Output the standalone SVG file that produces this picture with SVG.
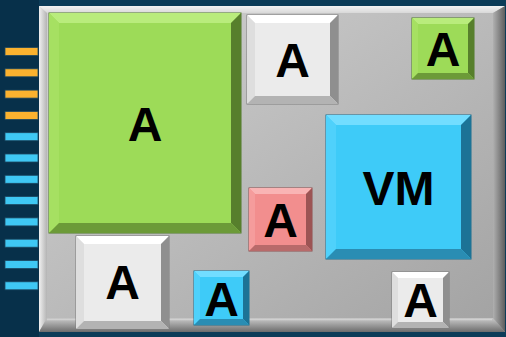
<svg xmlns="http://www.w3.org/2000/svg" width="506" height="337" viewBox="0 0 506 337">
<defs>
<linearGradient id="boardFace" x1="0" y1="0" x2="1" y2="1">
<stop offset="0" stop-color="#d2d2d2"/>
<stop offset="1" stop-color="#a2a2a2"/>
</linearGradient>
<linearGradient id="boardBottom" x1="0" y1="0" x2="0" y2="1">
<stop offset="0" stop-color="#c4c4c4"/>
<stop offset="0.2" stop-color="#b8b8b8"/>
<stop offset="1" stop-color="#6c6c6c"/>
</linearGradient>
<linearGradient id="boardRight" x1="0" y1="0" x2="1" y2="0">
<stop offset="0" stop-color="#b0b0b0"/>
<stop offset="1" stop-color="#5e5e5e"/>
</linearGradient>
<linearGradient id="boardTop" x1="0" y1="0" x2="0" y2="1">
<stop offset="0" stop-color="#f4f4f4"/>
<stop offset="1" stop-color="#d8d8d8"/>
</linearGradient>
<linearGradient id="boardLeft" x1="0" y1="0" x2="1" y2="0">
<stop offset="0" stop-color="#f0f0f0"/>
<stop offset="1" stop-color="#b4b4b4"/>
</linearGradient>
<style>
.lbl{font-family:"Liberation Sans",Arial,sans-serif;font-weight:bold;font-size:48px;fill:#000;text-anchor:middle}
.strip-o{fill:#fbb22f;stroke:#1c4660;stroke-width:0.8}
.strip-b{fill:#3fc8f4;stroke:#1c4660;stroke-width:0.8}
.g .f{fill:#9ddb58;stroke:#4f7a28;stroke-width:1}
.g .t{fill:#b9ec7c}.g .l{fill:#a6e062}.g .r{fill:#577f2c}.g .b{fill:#6c9a38}
.w .f{fill:#ebebeb;stroke:#7d7d7d;stroke-width:1}
.w .t{fill:#ffffff}.w .l{fill:#dedede}.w .r{fill:#8f8f8f}.w .b{fill:#b3b3b3}
.c .f{fill:#3ecbf8;stroke:#1b6f90;stroke-width:1}
.c .t{fill:#72ddff}.c .l{fill:#4fd1fb}.c .r{fill:#1c7396}.c .b{fill:#2a8db3}
.p .f{fill:#f28e8e;stroke:#8f4c4c;stroke-width:1}
.p .t{fill:#f9b4b4}.p .l{fill:#f59c9c}.p .r{fill:#9c5454}.p .b{fill:#b86a6a}
</style>
</defs>
<rect x="0" y="0" width="506" height="337" fill="#0c3c58"/>
<rect x="0" y="0" width="39" height="337" fill="#07304a"/>
<g id="strips">
<rect class="strip-o" x="5" y="47.5" width="33" height="8"/>
<rect class="strip-o" x="5" y="68.8" width="33" height="8"/>
<rect class="strip-o" x="5" y="90.1" width="33" height="8"/>
<rect class="strip-o" x="5" y="111.4" width="33" height="8"/>
<rect class="strip-b" x="5" y="132.7" width="33" height="8"/>
<rect class="strip-b" x="5" y="154" width="33" height="8"/>
<rect class="strip-b" x="5" y="175.3" width="33" height="8"/>
<rect class="strip-b" x="5" y="196.6" width="33" height="8"/>
<rect class="strip-b" x="5" y="217.9" width="33" height="8"/>
<rect class="strip-b" x="5" y="239.2" width="33" height="8"/>
<rect class="strip-b" x="5" y="260.5" width="33" height="8"/>
<rect class="strip-b" x="5" y="281.8" width="33" height="8"/>
</g>
<g id="board">
<rect x="39" y="6" width="466" height="326" fill="url(#boardFace)"/>
<polygon points="39,6 505,6 493,13 47,13" fill="url(#boardTop)"/>
<polygon points="39,6 47,13 47,318 39,332" fill="url(#boardLeft)"/>
<polygon points="505,6 505,332 493,318 493,13" fill="url(#boardRight)"/>
<polygon points="39,332 505,332 493,318 47,318" fill="url(#boardBottom)"/>
<line x1="47" y1="319.5" x2="492" y2="319.5" stroke="#d0d0d0" stroke-width="1.5"/>
</g>
<g id="nodeA1" class="g">
<rect class="f" x="49" y="13" width="192" height="220"/>
<polygon class="t" points="49,13 241,13 231,23 59,23"/>
<polygon class="l" points="49,13 59,23 59,223 49,233"/>
<polygon class="r" points="241,13 241,233 231,223 231,23"/>
<polygon class="b" points="49,233 241,233 231,223 59,223"/>
<rect x="59" y="23" width="172" height="200" fill="#9ddb58"/>
<text class="lbl" x="145" y="141">A</text>
</g>
<g id="nodeA2" class="w">
<rect class="f" x="247" y="15" width="91" height="89"/>
<polygon class="t" points="247,15 338,15 330,23 255,23"/>
<polygon class="l" points="247,15 255,23 255,96 247,104"/>
<polygon class="r" points="338,15 338,104 330,96 330,23"/>
<polygon class="b" points="247,104 338,104 330,96 255,96"/>
<rect x="255" y="23" width="75" height="73" fill="#ebebeb"/>
<text class="lbl" x="292.5" y="77">A</text>
</g>
<g id="nodeA3" class="g">
<rect class="f" x="412" y="18" width="62" height="61"/>
<polygon class="t" points="412,18 474,18 468,24 418,24"/>
<polygon class="l" points="412,18 418,24 418,73 412,79"/>
<polygon class="r" points="474,18 474,79 468,73 468,24"/>
<polygon class="b" points="412,79 474,79 468,73 418,73"/>
<rect x="418" y="24" width="50" height="49" fill="#9ddb58"/>
<text class="lbl" x="443" y="66">A</text>
</g>
<g id="nodeVM" class="c">
<rect class="f" x="326" y="115" width="145" height="144"/>
<polygon class="t" points="326,115 471,115 461,125 336,125"/>
<polygon class="l" points="326,115 336,125 336,249 326,259"/>
<polygon class="r" points="471,115 471,259 461,249 461,125"/>
<polygon class="b" points="326,259 471,259 461,249 336,249"/>
<rect x="336" y="125" width="125" height="124" fill="#3ecbf8"/>
<text class="lbl" x="398.5" y="205">VM</text>
</g>
<g id="nodeA4" class="p">
<rect class="f" x="249" y="188" width="63" height="63"/>
<polygon class="t" points="249,188 312,188 306,194 255,194"/>
<polygon class="l" points="249,188 255,194 255,245 249,251"/>
<polygon class="r" points="312,188 312,251 306,245 306,194"/>
<polygon class="b" points="249,251 312,251 306,245 255,245"/>
<rect x="255" y="194" width="51" height="51" fill="#f28e8e"/>
<text class="lbl" x="280.5" y="237">A</text>
</g>
<g id="nodeA5" class="w">
<rect class="f" x="76" y="236" width="93" height="93"/>
<polygon class="t" points="76,236 169,236 161,244 84,244"/>
<polygon class="l" points="76,236 84,244 84,321 76,329"/>
<polygon class="r" points="169,236 169,329 161,321 161,244"/>
<polygon class="b" points="76,329 169,329 161,321 84,321"/>
<rect x="84" y="244" width="77" height="77" fill="#ebebeb"/>
<text class="lbl" x="122.5" y="299">A</text>
</g>
<g id="nodeA6" class="c">
<rect class="f" x="194" y="271" width="55" height="54"/>
<polygon class="t" points="194,271 249,271 243,277 200,277"/>
<polygon class="l" points="194,271 200,277 200,319 194,325"/>
<polygon class="r" points="249,271 249,325 243,319 243,277"/>
<polygon class="b" points="194,325 249,325 243,319 200,319"/>
<rect x="200" y="277" width="43" height="42" fill="#3ecbf8"/>
<text class="lbl" x="221.5" y="316">A</text>
</g>
<g id="nodeA7" class="w">
<rect class="f" x="392" y="272" width="57" height="56"/>
<polygon class="t" points="392,272 449,272 443,278 398,278"/>
<polygon class="l" points="392,272 398,278 398,322 392,328"/>
<polygon class="r" points="449,272 449,328 443,322 443,278"/>
<polygon class="b" points="392,328 449,328 443,322 398,322"/>
<rect x="398" y="278" width="45" height="44" fill="#ebebeb"/>
<text class="lbl" x="420.5" y="317">A</text>
</g>
<g id="connectors"/>
</svg>
